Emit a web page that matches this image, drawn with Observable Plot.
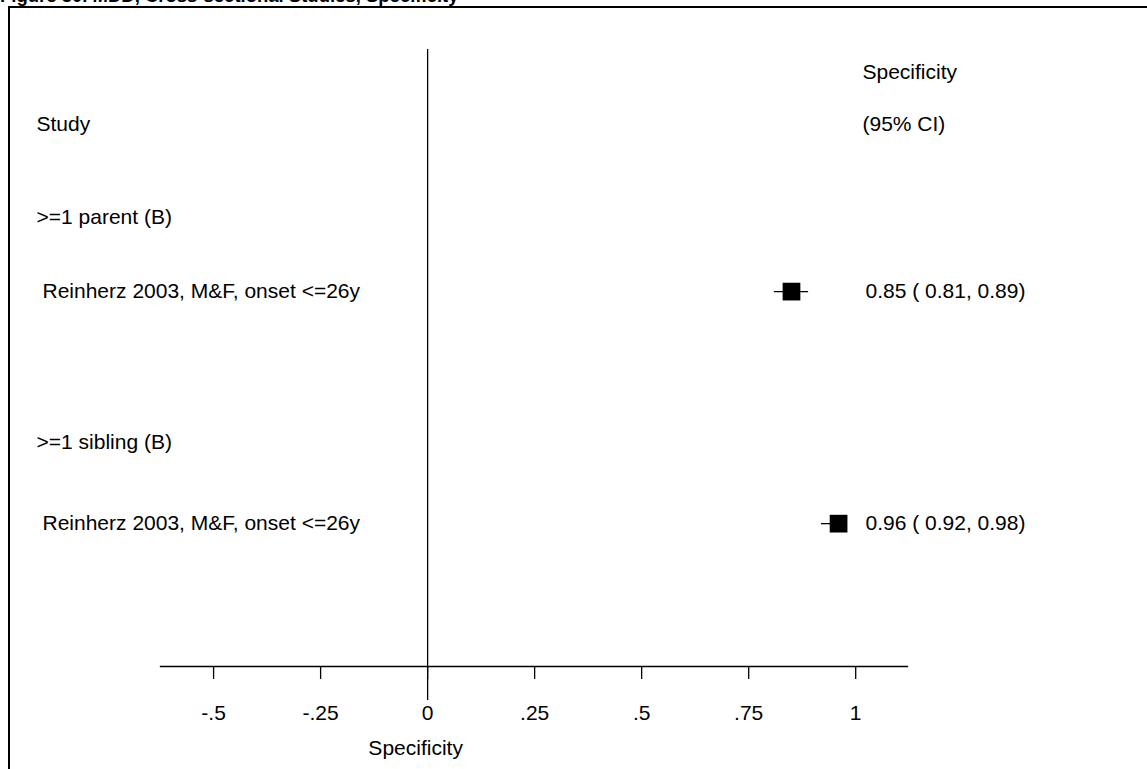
<!DOCTYPE html>
<html><head><meta charset="utf-8">
<script src="https://cdn.jsdelivr.net/npm/d3@7"></script>
<script src="https://cdn.jsdelivr.net/npm/@observablehq/plot@0.6"></script>
<style>
body{margin:0;background:#fff;overflow:hidden;font-family:"Liberation Sans",Arial,sans-serif;}
#wrap{position:relative;width:1147px;height:769px;overflow:hidden;}
#title{position:absolute;left:0;top:-13px;font-weight:bold;font-size:18.5px;line-height:18px;white-space:nowrap;}
#box{position:absolute;left:8px;top:6px;right:-10px;bottom:-10px;border-left:2px solid #000;border-top:2px solid #000;}
#chart{position:absolute;left:0;top:0;}
</style></head><body>
<div id="wrap"><div id="title">Figure 30. MDD, Cross-sectional Studies, Specificity</div><div id="box"></div><div id="chart"></div></div>
<script>
// ---- data ----
const groupLabels = [">=1 parent (B)", ">=1 sibling (B)"];
const studyLabels = ["Reinherz 2003, M&F, onset <=26y", "Reinherz 2003, M&F, onset <=26y"];
const estimates = [0.85, 0.96];
const lowerCI = [0.81, 0.92];
const upperCI = [0.89, 0.98];
const groupRows = [4.92, 11.0];
const studyRows = [6.92, 13.19];
const headerRows = [1.0, 2.4];
const leftHeaders = ["", "Study"];
const rightHeaders = ["Specificity", "(95% CI)"];
const tickValues = [-0.5, -0.25, 0, 0.25, 0.5, 0.75, 1];
const tickLabels = ["-.5", "-.25", "0", ".25", ".5", ".75", "1"];
const xLimits = [-0.624, 1.121];
const yLimits = [0, 17.05];
const nullLine = {x: 0, y1: 0.38, y2: 17.97};
const axisTitle = "Specificity";
const axisTitleX = -0.028;

// ---- tables ----
const f2 = d3.format(".2f");
const studies = estimates.map((e, i) => ({
  group: groupLabels[i], study: studyLabels[i], est: e, lo: lowerCI[i], hi: upperCI[i],
  gRow: groupRows[i], sRow: studyRows[i],
  txt: `${f2(e)} ( ${f2(lowerCI[i])}, ${f2(upperCI[i])})`
}));
const headers = headerRows.map((r, i) => ({row: r, left: leftHeaders[i], right: rightHeaders[i]}));

const W = 1147, H = 769;
const FS = 21;
const plot = Plot.plot({
  width: W, height: H,
  marginLeft: 160, marginRight: 240, marginTop: 35, marginBottom: 103,
  x: {domain: xLimits},
  y: {domain: yLimits, reverse: true, axis: null},
  style: {fontFamily: '"Liberation Sans", Arial, sans-serif', fontSize: FS + "px", background: "transparent", color: "#000"},
  marks: [
    Plot.frame({anchor: "bottom", stroke: "#000", strokeWidth: 1.3}),
    Plot.ruleX([nullLine], {x: "x", y1: "y1", y2: "y2", stroke: "#000", strokeWidth: 1.3}),
    Plot.axisX({ticks: tickValues, tickFormat: (d) => tickLabels[tickValues.indexOf(d)], tickSize: 13, tickPadding: 26, fontSize: FS, stroke: "#000", strokeWidth: 1.3, label: null}),
    Plot.text([axisTitle], {x: () => axisTitleX, frameAnchor: "bottom", dy: 88, fontSize: FS, text: d => d}),
    Plot.text(headers, {y: "row", text: "left", frameAnchor: "left", textAnchor: "start", dx: -124, fontSize: FS}),
    Plot.text(headers, {y: "row", text: "right", frameAnchor: "right", textAnchor: "start", dx: -45, fontSize: FS}),
    Plot.text(studies, {y: "gRow", text: "group", frameAnchor: "left", textAnchor: "start", dx: -124, fontSize: FS}),
    Plot.text(studies, {y: "sRow", text: "study", frameAnchor: "left", textAnchor: "start", dx: -118, fontSize: FS}),
    Plot.ruleY(studies, {y: "sRow", x1: "lo", x2: "hi", stroke: "#000", strokeWidth: 1.3}),
    Plot.dot(studies, {x: "est", y: "sRow", symbol: "square", r: 10, fill: "#000", stroke: null}),
    Plot.text(studies, {y: "sRow", text: "txt", frameAnchor: "right", textAnchor: "start", dx: -42, fontSize: FS})
  ]
});
document.getElementById("chart").appendChild(plot);
</script>
</body></html>
